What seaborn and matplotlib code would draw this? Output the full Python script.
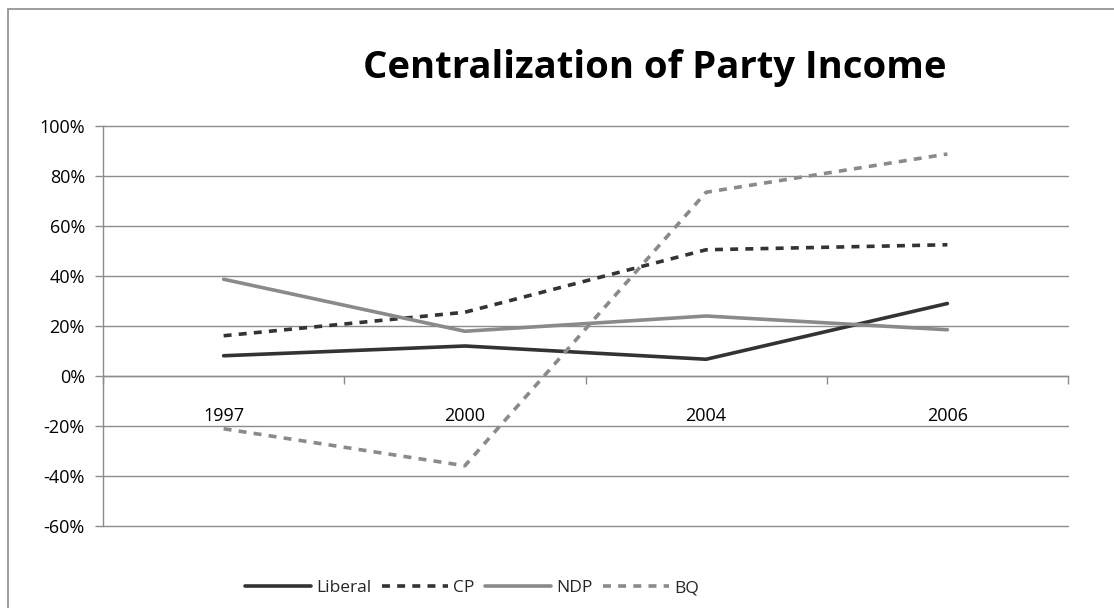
import matplotlib
matplotlib.use("Agg")
import matplotlib.pyplot as plt
from matplotlib.patches import Rectangle
from matplotlib.lines import Line2D
from matplotlib.ticker import FuncFormatter, FixedLocator
import seaborn as sns
import pandas as pd

years = ["1997", "2000", "2004", "2006"]
parties = ["Liberal", "CP", "NDP", "BQ"]
liberal = [8.1, 12.0, 6.7, 29.0]
cp = [16.1, 25.5, 50.5, 52.5]
ndp = [38.7, 17.9, 24.0, 18.5]
bq = [-21.1, -35.9, 73.5, 88.8]
y_ticks = [-60, -40, -20, 0, 20, 40, 60, 80, 100]

series = {"Liberal": liberal, "CP": cp, "NDP": ndp, "BQ": bq}
rows = []
for p in parties:
    for i, v in enumerate(series[p]):
        rows.append({"pos": i, "year": years[i], "party": p, "value": v})
df = pd.DataFrame(rows)

sns.set_theme(style="white")
plt.rcParams["font.family"] = ["Open Sans", "DejaVu Sans"]

colors = {"Liberal": "#333333", "CP": "#333333", "NDP": "#8a8a8a", "BQ": "#8a8a8a"}
dashes = {"Liberal": "", "CP": (2.2, 2.0), "NDP": "", "BQ": (2.2, 2.0)}
grid_color = "#8c8c8c"

W, H = 1114, 608
fig = plt.figure(figsize=(W / 100, H / 100), dpi=100)
ax = fig.add_axes([103 / W, 1 - 526 / H, (1068 - 103) / W, (526 - 126) / H])

# horizontal gridlines, drawn first so the series sit on top
for v in y_ticks:
    ax.axhline(v, color=grid_color, linewidth=1.0, clip_on=False, zorder=0.5)

sns.lineplot(data=df, x="pos", y="value", hue="party", style="party",
             palette=colors, dashes=dashes, hue_order=parties,
             style_order=parties, linewidth=2.6, legend=False, ax=ax, zorder=2)

ax.set_xlim(-0.5, 3.5)
ax.set_ylim(-60, 100)
ax.set_xlabel("")
ax.set_ylabel("")
ax.grid(False)

ax.yaxis.set_major_locator(FixedLocator(y_ticks))
ax.yaxis.set_major_formatter(FuncFormatter(lambda v, _: f"{int(v)}%"))

for s in ["top", "right"]:
    ax.spines[s].set_visible(False)
ax.spines["left"].set_color(grid_color)
ax.spines["left"].set_linewidth(1.0)
ax.spines["bottom"].set_position(("data", 0))
ax.spines["bottom"].set_color(grid_color)
ax.spines["bottom"].set_linewidth(1.0)

ax.tick_params(axis="y", which="major", left=True, length=6, width=1,
               color=grid_color, labelsize=13, labelcolor="#000000", pad=7)

# category boundary ticks on the zero line, year labels below them
ax.xaxis.set_major_locator(FixedLocator([-0.5, 0.5, 1.5, 2.5, 3.5]))
ax.xaxis.set_major_formatter(FuncFormatter(lambda v, _: ""))
ax.xaxis.set_minor_locator(FixedLocator([0, 1, 2, 3]))
ax.set_xticklabels(years, minor=True)
ax.tick_params(axis="x", which="minor", bottom=True, length=0,
               labelsize=13, labelcolor="#000000", pad=22)
ax.tick_params(axis="x", which="major", bottom=True, length=6, width=1,
               color=grid_color, direction="out")

fig.text(655 / W, 1 - 68 / H, "Centralization of Party Income",
         ha="center", va="center", fontsize=27.5, fontweight="bold", color="#000000")

# legend along the bottom
handles = [Line2D([0], [0], color=colors[p], linewidth=2.6,
                  linestyle="-" if dashes[p] == "" else (0, dashes[p]))
           for p in parties]
fig.legend(handles, parties, loc="center", bbox_to_anchor=(472 / W, 1 - 588 / H),
           ncol=4, frameon=False, fontsize=12.5, handlelength=3.8,
           handletextpad=0.3, columnspacing=0.6)

# chart border
fig.patches.append(Rectangle((8 / W, -0.05), 1.1, 1.05 - 9 / H,
                             transform=fig.transFigure, fill=False,
                             edgecolor=grid_color, linewidth=1.2))

fig.savefig("out.png", dpi=100)
